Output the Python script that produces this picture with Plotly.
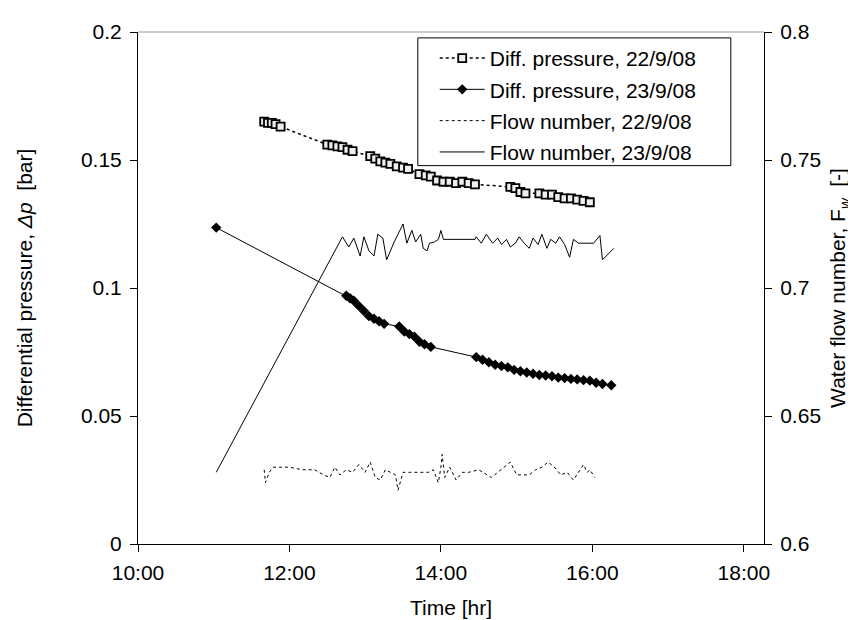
import plotly.graph_objects as go

# Diff. pressure, 22/9/08 [bar]
dp1_time = ["11:40", "11:43", "11:46", "11:49", "11:53",
            "12:30", "12:34", "12:38", "12:42", "12:46", "12:50",
            "13:04", "13:08", "13:12", "13:16", "13:20", "13:25", "13:30", "13:34",
            "13:43", "13:48", "13:52", "13:57", "14:02", "14:07", "14:12", "14:17", "14:22", "14:27",
            "14:55", "14:59", "15:03", "15:07",
            "15:18", "15:23", "15:28", "15:33", "15:38", "15:43", "15:48", "15:53", "15:58"]
dp1 = [0.165, 0.1645, 0.1645, 0.164, 0.163,
       0.156, 0.1557, 0.1553, 0.155, 0.154, 0.1535,
       0.1515, 0.1505, 0.1495, 0.149, 0.1485, 0.1475, 0.147, 0.1465,
       0.1445, 0.144, 0.1435, 0.142, 0.1415, 0.1415, 0.141, 0.1415, 0.141, 0.1405,
       0.1395, 0.139, 0.1375, 0.137,
       0.1370, 0.1365, 0.1365, 0.1355, 0.135, 0.135, 0.1345, 0.134, 0.1335]

# Diff. pressure, 23/9/08 [bar]
dp2_time = ["11:02",
            "12:45", "12:48", "12:51", "12:55", "12:59", "13:03", "13:07", "13:11", "13:15",
            "13:27", "13:31", "13:35", "13:39", "13:43", "13:47", "13:52",
            "14:28", "14:33", "14:38", "14:43", "14:48", "14:53", "14:58", "15:03", "15:08",
            "15:13", "15:18", "15:23", "15:28", "15:33", "15:38", "15:43", "15:48", "15:53",
            "15:58", "16:03", "16:08", "16:15"]
dp2 = [0.1236,
       0.097, 0.096, 0.095, 0.093, 0.091, 0.089, 0.088, 0.087, 0.086,
       0.085, 0.083, 0.082, 0.081, 0.079, 0.078, 0.077,
       0.073, 0.072, 0.071, 0.070, 0.0695, 0.069, 0.068, 0.0675, 0.067,
       0.0665, 0.066, 0.0658, 0.0655, 0.065, 0.0648, 0.0645, 0.0643, 0.064,
       0.0638, 0.063, 0.0625, 0.062]

# Flow number, 22/9/08 [-]
fw1_time = ["11:40", "11:41", "11:44", "11:47", "11:52", "12:00", "12:10", "12:20", "12:27",
            "12:32", "12:36", "12:40", "12:45", "12:50", "12:55", "13:00", "13:04", "13:08",
            "13:12", "13:16", "13:20", "13:24", "13:26", "13:30", "13:35", "13:40", "13:45",
            "13:50", "13:54", "13:58", "14:00", "14:01", "14:03", "14:07", "14:12", "14:17",
            "14:22", "14:30", "14:40", "14:50", "14:55", "15:00", "15:05", "15:10", "15:15",
            "15:20", "15:25", "15:30", "15:35", "15:40", "15:45", "15:50", "15:53", "15:56",
            "15:58", "16:02"]
fw1 = [0.629, 0.624, 0.628, 0.630, 0.630, 0.630, 0.629, 0.629, 0.627,
       0.626, 0.630, 0.627, 0.629, 0.628, 0.631, 0.628, 0.632, 0.626,
       0.625, 0.629, 0.628, 0.627, 0.621, 0.628, 0.628, 0.628, 0.628,
       0.628, 0.629, 0.624, 0.630, 0.635, 0.626, 0.630, 0.625, 0.628,
       0.628, 0.629, 0.626, 0.630, 0.632, 0.627, 0.627, 0.627, 0.629,
       0.630, 0.632, 0.630, 0.627, 0.628, 0.625, 0.629, 0.631, 0.628,
       0.629, 0.626]

# Flow number, 23/9/08 [-]
fw2_time = ["11:02", "12:42", "12:47", "12:51", "12:56", "12:59", "13:03", "13:07", "13:10",
            "13:14", "13:17", "13:23", "13:30", "13:33", "13:37", "13:40", "13:44", "13:46",
            "13:49", "13:51", "13:55", "13:58", "14:00", "14:02", "14:27", "14:28", "14:32",
            "14:36", "14:41", "14:45", "14:48", "14:52", "14:55", "14:59", "15:02", "15:06",
            "15:10", "15:13", "15:17", "15:20", "15:24", "15:27", "15:31", "15:34", "15:38",
            "15:42", "15:45", "15:49", "15:54", "16:01", "16:06", "16:08", "16:17"]
fw2 = [0.628, 0.720, 0.716, 0.7195, 0.7125, 0.720, 0.7145, 0.7125, 0.721,
       0.7195, 0.711, 0.718, 0.725, 0.7175, 0.7225, 0.718, 0.721, 0.7155,
       0.7145, 0.7175, 0.718, 0.719, 0.7225, 0.719, 0.719, 0.720, 0.7175,
       0.721, 0.7175, 0.7195, 0.717, 0.719, 0.716, 0.7175, 0.720, 0.7175,
       0.7155, 0.7195, 0.717, 0.721, 0.7155, 0.719, 0.7175, 0.720, 0.717,
       0.712, 0.719, 0.7175, 0.7175, 0.7175, 0.7205, 0.711, 0.7155]


def to_dt(times):
    return ["2008-09-23 " + t for t in times]


fig = go.Figure()
fig.add_trace(go.Scatter(x=to_dt(dp1_time), y=dp1, name="Diff. pressure, 22/9/08",
                         mode="lines+markers", legendgroup="a",
                         line=dict(color="black", width=1.5, dash="dot"),
                         marker=dict(symbol="square", size=8, color="#eeeeee",
                                     line=dict(color="black", width=1.8))))
fig.add_trace(go.Scatter(x=to_dt(dp2_time), y=dp2, name="Diff. pressure, 23/9/08",
                         mode="lines+markers", legendgroup="b",
                         line=dict(color="black", width=1),
                         marker=dict(symbol="diamond", size=8, color="black")))
fig.add_trace(go.Scatter(x=to_dt(fw1_time), y=fw1, name="Flow number, 22/9/08",
                         mode="lines", yaxis="y2", legendgroup="c",
                         line=dict(color="black", width=1, dash="dot")))
fig.add_trace(go.Scatter(x=to_dt(fw2_time), y=fw2, name="Flow number, 23/9/08",
                         mode="lines", yaxis="y2", legendgroup="d",
                         line=dict(color="black", width=1)))

font = "Liberation Sans, Arial, sans-serif"
fig.update_layout(
    width=856, height=620,
    margin=dict(l=130, r=100, t=17, b=82),
    plot_bgcolor="white", paper_bgcolor="white",
    font=dict(family=font, size=21, color="black"),
    showlegend=True,
    legend=dict(x=0.474, y=0.9885, xanchor="left", yanchor="top",
                bgcolor="rgba(0,0,0,0)", borderwidth=0,
                font=dict(size=21), tracegroupgap=1, traceorder="grouped",
                itemwidth=45),
    xaxis=dict(type="date", range=["2008-09-23 10:00", "2008-09-23 18:16"],
               tickformat="%H:%M", dtick=2 * 3600 * 1000,
               tick0="2008-09-23 10:00",
               showgrid=False, zeroline=False, showline=True, linecolor="black",
               ticks="outside", ticklen=7, tickcolor="black", ticklabelstandoff=3,
               title=dict(text="Time [hr]", font=dict(size=21), standoff=17)),
    yaxis=dict(range=[0, 0.2], dtick=0.05, showgrid=False, zeroline=False,
               showline=True, linecolor="black", ticks="outside", ticklen=7,
               tickcolor="black", ticklabelstandoff=4,
               title=dict(text="Differential pressure, <i>Δp</i>  [bar]",
                          font=dict(size=21), standoff=42)),
    yaxis2=dict(range=[0.6, 0.8], dtick=0.05, overlaying="y", side="right",
                showgrid=False, zeroline=False, showline=True, linecolor="black",
                ticks="outside", ticklen=7, tickcolor="black", ticklabelstandoff=4,
                title=dict(text="Water flow number, F<sub><i>w</i></sub>  [-]",
                           font=dict(size=21), standoff=10)),
    yaxis3=dict(range=[0.6, 0.8], dtick=0.05, overlaying="y", side="right",
                showgrid=False, zeroline=False, showline=False,
                ticks="inside", ticklen=7, tickcolor="black",
                showticklabels=False),
)
# grey top edge of the plot area and the legend frame
fig.add_shape(type="line", xref="paper", yref="paper", x0=0, x1=1, y0=1, y1=1,
              line=dict(color="#999999", width=1))
fig.add_shape(type="rect", xref="paper", yref="paper", x0=0.447, x1=0.947,
              y0=0.739, y1=0.9885, layer="above", fillcolor="white",
              line=dict(color="black", width=1))

fig.write_html("out.html")
